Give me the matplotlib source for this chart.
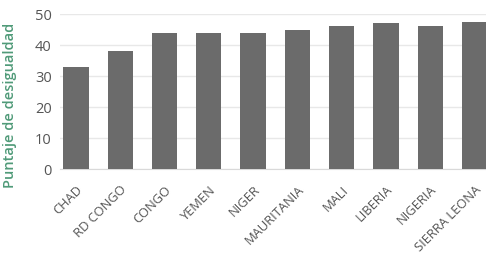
import matplotlib
matplotlib.use("Agg")
from matplotlib import pyplot as plt

countries = ["CHAD", "RD CONGO", "CONGO", "YEMEN", "NIGER",
             "MAURITANIA", "MALI", "LIBERIA", "NIGERIA", "SIERRA LEONA"]
scores = [33, 38, 44, 44, 44, 45, 46, 47, 46, 47.5]
y_ticks = [0, 10, 20, 30, 40, 50]

plt.rcParams["font.family"] = ["Open Sans", "DejaVu Sans"]

fig = plt.figure(figsize=(4.86, 2.54), dpi=100)
ax = fig.add_axes([60 / 486, 84.7 / 254, 426 / 486, 155.3 / 254])

x = list(range(len(countries)))
ax.bar(x, scores, width=0.57, color="#6b6b6b", zorder=3)

ax.set_xlim(-0.36, 9.26)
ax.set_ylim(0, 50)
ax.set_yticks(y_ticks)
ax.yaxis.grid(True, color="#e8e8e8", linewidth=1, zorder=0)
ax.set_xticks(x)
ax.set_xticklabels(countries, rotation=45, ha="right", rotation_mode="anchor",
                   fontsize=9.3, color="#555555")
ax.tick_params(axis="y", labelsize=10.5, colors="#555555", length=0, pad=6)
ax.tick_params(axis="x", length=0, pad=10)
for side in ("top", "right", "left"):
    ax.spines[side].set_visible(False)
ax.spines["bottom"].set_color("#d9d9d9")

ax.set_ylabel("Puntaje de desigualdad", color="#4f9a78", fontsize=10.5,
              fontweight="semibold")
ax.yaxis.set_label_coords(-0.1, 0.414)

fig.savefig("out.png", dpi=100)
